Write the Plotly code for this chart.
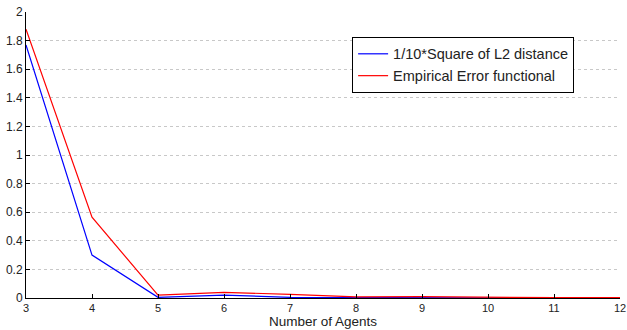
import plotly.graph_objects as go

agents = [3, 4, 5, 6, 7, 8, 9, 10, 11, 12]
l2_sq_tenth = [1.77, 0.30, 0.005, 0.02, 0.005, 0.002, 0.002, 0.001, 0.001, 0.001]
emp_error = [1.88, 0.565, 0.02, 0.04, 0.025, 0.008, 0.01, 0.005, 0.002, 0.002]
y_ticks = [0, 0.2, 0.4, 0.6, 0.8, 1, 1.2, 1.4, 1.6, 1.8, 2]
y_tick_labels = ["0", "0.2", "0.4", "0.6", "0.8", "1", "1.2", "1.4", "1.6", "1.8", "2"]

fig = go.Figure()
fig.add_trace(go.Scatter(x=agents, y=l2_sq_tenth, mode="lines",
                         line=dict(color="blue", width=1.2),
                         name="1/10*Square of L2 distance"))
fig.add_trace(go.Scatter(x=agents, y=emp_error, mode="lines",
                         line=dict(color="red", width=1.2),
                         name="Empirical Error functional"))

fig.update_layout(
    width=627, height=330,
    margin=dict(l=26, r=7, t=12, b=32),
    paper_bgcolor="white", plot_bgcolor="white",
    font=dict(family="Liberation Sans, Arial, sans-serif", size=12, color="#222"),
    showlegend=True,
    legend=dict(x=0.549, y=0.913, xanchor="left", yanchor="top",
                bgcolor="white", bordercolor="black", borderwidth=1,
                font=dict(size=14.5), tracegroupgap=0, itemwidth=30),
    annotations=[dict(text="Number of Agents", xref="paper", yref="paper",
                      x=0.5, y=-32 / 286, xanchor="center", yanchor="bottom",
                      showarrow=False, font=dict(size=13.5), borderpad=0)],
)
fig.update_xaxes(
    range=[3, 12], tickmode="array", tickvals=agents,
    ticks="inside", ticklen=4, tickcolor="black",
    tickfont=dict(size=11),
    showline=True, linecolor="black", linewidth=1,
    showgrid=False, zeroline=False, automargin=False,
)
fig.update_yaxes(
    range=[0, 2], tickmode="array", tickvals=y_ticks, ticktext=y_tick_labels,
    ticks="inside", ticklen=4, tickcolor="black",
    showline=True, linecolor="black", linewidth=1,
    showgrid=True, gridcolor="#c8c8c8", griddash="dot", gridwidth=1,
    zeroline=False, automargin=False,
)

fig.write_html("out.html", config={"displayModeBar": False},
               post_script="document.body.style.margin='0';")
